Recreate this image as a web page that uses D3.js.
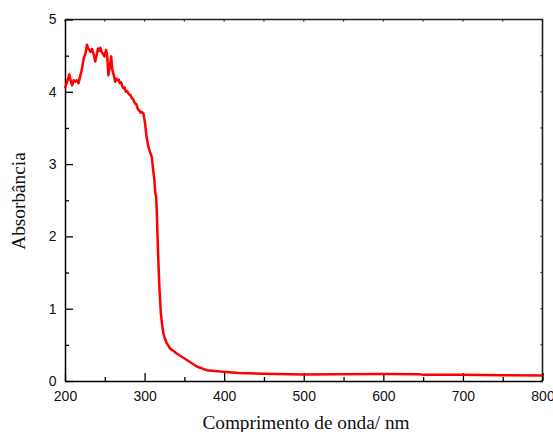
<!DOCTYPE html>
<html>
<head>
<meta charset="utf-8">
<script src="https://cdn.jsdelivr.net/npm/d3@7"></script>
<style>
  html, body { margin: 0; padding: 0; background: #fff; }
  svg { display: block; }
</style>
</head>
<body>
<svg id="chart" width="553" height="432"></svg>
<script>
// UV-Vis absorption spectrum: wavelength (nm) vs absorbance
const wavelength = [
  200, 203, 205.5, 207, 209, 211, 213, 215, 217, 219, 221, 223.5, 225.5, 227.7, 229,
  230.6, 232, 234, 236, 238, 240, 241.5, 243, 244.4, 246, 247.4, 249.5, 251.6, 253,
  254.5, 256, 258, 259.6, 261.5, 263, 264.5, 266, 267.5, 269, 270.5, 272, 273.3, 275,
  276.4, 278, 279.7, 281, 282.5, 284, 285.5, 287, 288, 289.5, 291, 292, 293.5, 295,
  296.5, 298.5, 299.5, 300.6, 302.7, 304.8,
  307, 309, 310.5, 312.3, 313.5, 314.5, 315.3, 316, 317.4, 318.6, 320.4, 322, 323.6,
  326, 328, 332, 340.5, 353, 365.7, 378, 395, 418, 449, 500, 540, 600, 645, 650,
  700, 750, 800
];
const absorbance = [
  4.05, 4.15, 4.24, 4.16, 4.09, 4.16, 4.14, 4.16, 4.12, 4.21, 4.30, 4.46, 4.52, 4.65, 4.60,
  4.58, 4.55, 4.59, 4.52, 4.42, 4.52, 4.60, 4.57, 4.61, 4.55, 4.53, 4.49, 4.58, 4.50,
  4.23, 4.32, 4.49, 4.30, 4.22, 4.14, 4.18, 4.16, 4.17, 4.12, 4.13, 4.08, 4.05, 4.06,
  4.00, 4.01, 3.98, 3.96, 3.95, 3.91, 3.90, 3.86, 3.84, 3.83, 3.78, 3.75, 3.74, 3.71,
  3.72, 3.70, 3.64, 3.56, 3.36, 3.24,
  3.16, 3.10, 2.95, 2.78, 2.60, 2.55, 2.37, 2.09, 1.63, 1.30, 0.94, 0.78, 0.66,
  0.57, 0.52, 0.45, 0.38, 0.29, 0.20, 0.15, 0.13, 0.11, 0.10, 0.09, 0.095, 0.097, 0.095, 0.085,
  0.085, 0.08, 0.075
];

const xMajorTicks = [200, 300, 400, 500, 600, 700, 800];
const xMinorTicks = [250, 350, 450, 550, 650, 750];
const yMajorTicks = [0, 1, 2, 3, 4, 5];
const yMinorTicks = [0.5, 1.5, 2.5, 3.5, 4.5];

const xTitle = "Comprimento de onda/ nm";
const yTitle = "Absorbância";

const plotLeft = 65, plotRight = 542.5, plotTop = 19.5, plotBottom = 381;

const svg = d3.select("#chart");

const x = d3.scaleLinear().domain([200, 800]).range([plotLeft, plotRight]);
const y = d3.scaleLinear().domain([0, 5]).range([plotBottom, plotTop]);

const tickFont = "'Liberation Sans', Arial, sans-serif";
const titleFont = "'Liberation Serif', 'Times New Roman', serif";

// frame: top and right edges
svg.append("path")
  .attr("d", `M${plotLeft},${plotTop}H${plotRight}V${plotBottom}`)
  .attr("fill", "none")
  .attr("stroke", "#222")
  .attr("stroke-width", 1.6);

// small inward ticks along top and right edges
const frameTicks = svg.append("g").attr("stroke", "#222").attr("stroke-width", 1.2);
xMajorTicks.concat(xMinorTicks).forEach(v => {
  frameTicks.append("line").attr("x1", x(v)).attr("x2", x(v)).attr("y1", plotTop).attr("y2", plotTop + 2);
});
yMajorTicks.concat(yMinorTicks).forEach(v => {
  frameTicks.append("line").attr("y1", y(v)).attr("y2", y(v)).attr("x1", plotRight).attr("x2", plotRight - 2);
});

function styleAxis(g) {
  g.selectAll(".domain").attr("stroke", "#000").attr("stroke-width", 1.5);
  g.selectAll(".tick line").attr("stroke", "#000").attr("stroke-width", 1.3);
  g.selectAll("text").attr("fill", "#111").style("font-family", tickFont).style("font-size", "14px");
}

// bottom axis
const xAxisG = svg.append("g")
  .attr("transform", `translate(0,${plotBottom})`)
  .call(d3.axisBottom(x).tickValues(xMajorTicks).tickSize(-8).tickSizeOuter(0).tickPadding(10)
    .tickFormat(d3.format("d")));
styleAxis(xAxisG);
xAxisG.selectAll("text").attr("dy", "0.71em");

svg.append("g")
  .attr("transform", `translate(0,${plotBottom})`)
  .call(d3.axisBottom(x).tickValues(xMinorTicks).tickSize(-4).tickSizeOuter(0).tickFormat(""))
  .call(g => { g.select(".domain").remove(); g.selectAll(".tick line").attr("stroke", "#000").attr("stroke-width", 1.3); });

// left axis
const yAxisG = svg.append("g")
  .attr("transform", `translate(${plotLeft},0)`)
  .call(d3.axisLeft(y).tickValues(yMajorTicks).tickSize(-8).tickSizeOuter(0).tickPadding(8.5)
    .tickFormat(d3.format("d")));
styleAxis(yAxisG);

svg.append("g")
  .attr("transform", `translate(${plotLeft},0)`)
  .call(d3.axisLeft(y).tickValues(yMinorTicks).tickSize(-4).tickSizeOuter(0).tickFormat(""))
  .call(g => { g.select(".domain").remove(); g.selectAll(".tick line").attr("stroke", "#000").attr("stroke-width", 1.3); });

// spectrum
const points = wavelength.map((w, i) => [w, absorbance[i]]);
svg.append("path")
  .datum(points)
  .attr("fill", "none")
  .attr("stroke", "#ff0000")
  .attr("stroke-width", 2.5)
  .attr("stroke-linejoin", "round")
  .attr("d", d3.line().x(d => x(d[0])).y(d => y(d[1])));

// axis titles
svg.append("text")
  .attr("x", 306)
  .attr("y", 429)
  .attr("text-anchor", "middle")
  .style("font-family", titleFont)
  .style("font-size", "19.3px")
  .attr("fill", "#111")
  .text(xTitle);

svg.append("text")
  .attr("transform", "translate(25,201) rotate(-90)")
  .attr("text-anchor", "middle")
  .style("font-family", titleFont)
  .style("font-size", "19.3px")
  .attr("fill", "#111")
  .text(yTitle);
</script>
</body>
</html>
